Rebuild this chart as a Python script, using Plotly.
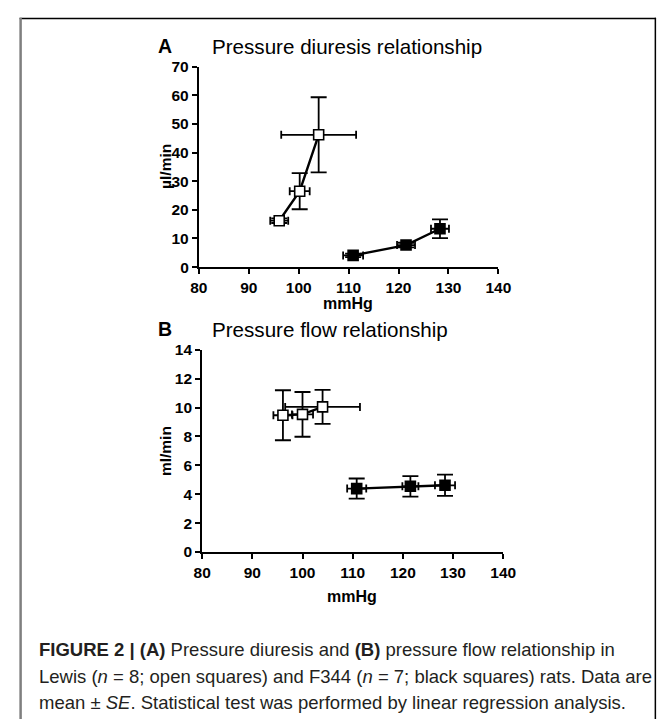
import plotly.graph_objects as go

# ---- Data ----
# Panel A: Pressure diuresis relationship
a_lewis_x = [96.1, 100.2, 104.0]
a_lewis_x_err = [1.8, 2.0, 7.5]
a_lewis_y = [16.2, 26.5, 46.2]
a_lewis_y_err = [0.8, 6.3, 13.1]

a_f344_x = [110.9, 121.5, 128.3]
a_f344_x_err = [2.0, 1.8, 1.8]
a_f344_y = [4.1, 7.7, 13.4]
a_f344_y_err = [0.6, 0.8, 3.3]

# Panel B: Pressure flow relationship
b_lewis_x = [96.1, 100.0, 104.0]
b_lewis_x_err = [1.9, 2.1, 7.45]
b_lewis_y = [9.47, 9.53, 10.05]
b_lewis_y_err = [1.73, 1.55, 1.18]

b_f344_x = [110.8, 121.5, 128.4]
b_f344_x_err = [1.9, 1.6, 2.0]
b_f344_y = [4.39, 4.55, 4.62]
b_f344_y_err = [0.7, 0.71, 0.74]

x_ticks = [80, 90, 100, 110, 120, 130, 140]
a_y_ticks = [0, 10, 20, 30, 40, 50, 60, 70]
b_y_ticks = [0, 2, 4, 6, 8, 10, 12, 14]

W, H = 670, 727
FONT = "Liberation Sans, Arial, sans-serif"


def px(x):
    return x / W


def py(y):
    return 1 - y / H


fig = go.Figure()


def add_series(xs, xe, ys, ye, filled, xa, ya):
    fig.add_trace(go.Scatter(
        x=xs, y=ys, xaxis=xa, yaxis=ya,
        mode="lines+markers",
        line=dict(color="black", width=2.4),
        marker=dict(symbol="square", size=10,
                    color="black" if filled else "white",
                    line=dict(color="black", width=1.6)),
        error_x=dict(type="data", array=xe, visible=True, color="black",
                     thickness=1.8, width=4),
        error_y=dict(type="data", array=ye, visible=True, color="black",
                     thickness=1.8, width=8),
        showlegend=False, hoverinfo="x+y",
    ))


add_series(a_lewis_x, a_lewis_x_err, a_lewis_y, a_lewis_y_err, False, "x", "y")
add_series(a_f344_x, a_f344_x_err, a_f344_y, a_f344_y_err, True, "x", "y")
add_series(b_lewis_x, b_lewis_x_err, b_lewis_y, b_lewis_y_err, False, "x2", "y2")
add_series(b_f344_x, b_f344_x_err, b_f344_y, b_f344_y_err, True, "x2", "y2")

axis_common = dict(
    showline=True, linecolor="black", linewidth=2,
    ticks="outside", ticklen=5, tickwidth=2, tickcolor="black",
    showgrid=False, zeroline=False,
    tickfont=dict(family=FONT, size=15.5, color="black", weight="bold"),
)

fig.update_layout(
    width=W, height=H,
    margin=dict(l=0, r=0, t=0, b=0),
    paper_bgcolor="white", plot_bgcolor="white",
    xaxis=dict(domain=[px(196.3), px(506)], range=[80, 140], tickvals=x_ticks,
               anchor="y", **axis_common),
    yaxis=dict(domain=[py(264.3), py(59)], range=[0, 70], tickvals=a_y_ticks,
               anchor="x", **axis_common),
    xaxis2=dict(domain=[px(199.7), px(511)], range=[80, 140], tickvals=x_ticks,
                anchor="y2", **axis_common),
    yaxis2=dict(domain=[py(556), py(349)], range=[0, 14], tickvals=b_y_ticks,
                anchor="x2", **axis_common),
)

ann = []


def text(x, y, s, size, bold=False, angle=0, xanchor="center", color="black", font=FONT):
    ann.append(dict(x=px(x), y=py(y), xref="paper", yref="paper", text=s,
                    showarrow=False, xanchor=xanchor, yanchor="middle",
                    textangle=angle,
                    font=dict(family=font, size=size, color=color,
                              weight="bold" if bold else "normal")))


# Panel labels and titles
text(161, 38, "A", 19.5, bold=True)
text(208, 38, "Pressure diuresis relationship", 20.6, xanchor="left")
text(161, 328, "B", 19.5, bold=True)
text(208, 328, "Pressure flow relationship", 20.6, xanchor="left")

# Axis titles
text(350, 302, "mmHg", 16, bold=True)
text(162, 161, "µl/min", 15.5, bold=True, angle=-90)
text(355, 602, "mmHg", 16, bold=True)
text(162, 453, "ml/min", 15.5, bold=True, angle=-90)

# Caption
CAP = "Liberation Sans, Arial, sans-serif"
cap_color = "#231f20"
text(29, 656, "<b>FIGURE 2 | (A)</b> Pressure diuresis and <b>(B)</b> pressure flow relationship in",
     18.5, xanchor="left", color=cap_color, font=CAP)
text(29, 683, "Lewis (<i>n</i> = 8; open squares) and F344 (<i>n</i> = 7; black squares) rats. Data are",
     18.5, xanchor="left", color=cap_color, font=CAP)
text(29, 710, "mean ± <i>SE</i>. Statistical test was performed by linear regression analysis.",
     18.5, xanchor="left", color=cap_color, font=CAP)

fig.update_layout(annotations=ann)

# Frame around the figure panel
fig.add_shape(type="line", xref="paper", yref="paper",
              x0=px(11), x1=px(669), y0=py(9.7), y1=py(9.7),
              line=dict(color="black", width=1.5))
fig.add_shape(type="line", xref="paper", yref="paper",
              x0=px(12), x1=px(12), y0=py(9), y1=0,
              line=dict(color="#7f7f7f", width=2.5))
fig.add_shape(type="line", xref="paper", yref="paper",
              x0=px(668.3), x1=px(668.3), y0=py(9), y1=0,
              line=dict(color="black", width=1.5))

fig.write_html(
    "out.html",
    config={"displayModeBar": False},
    post_script="document.body.style.margin='0';document.body.style.overflow='hidden';",
)
